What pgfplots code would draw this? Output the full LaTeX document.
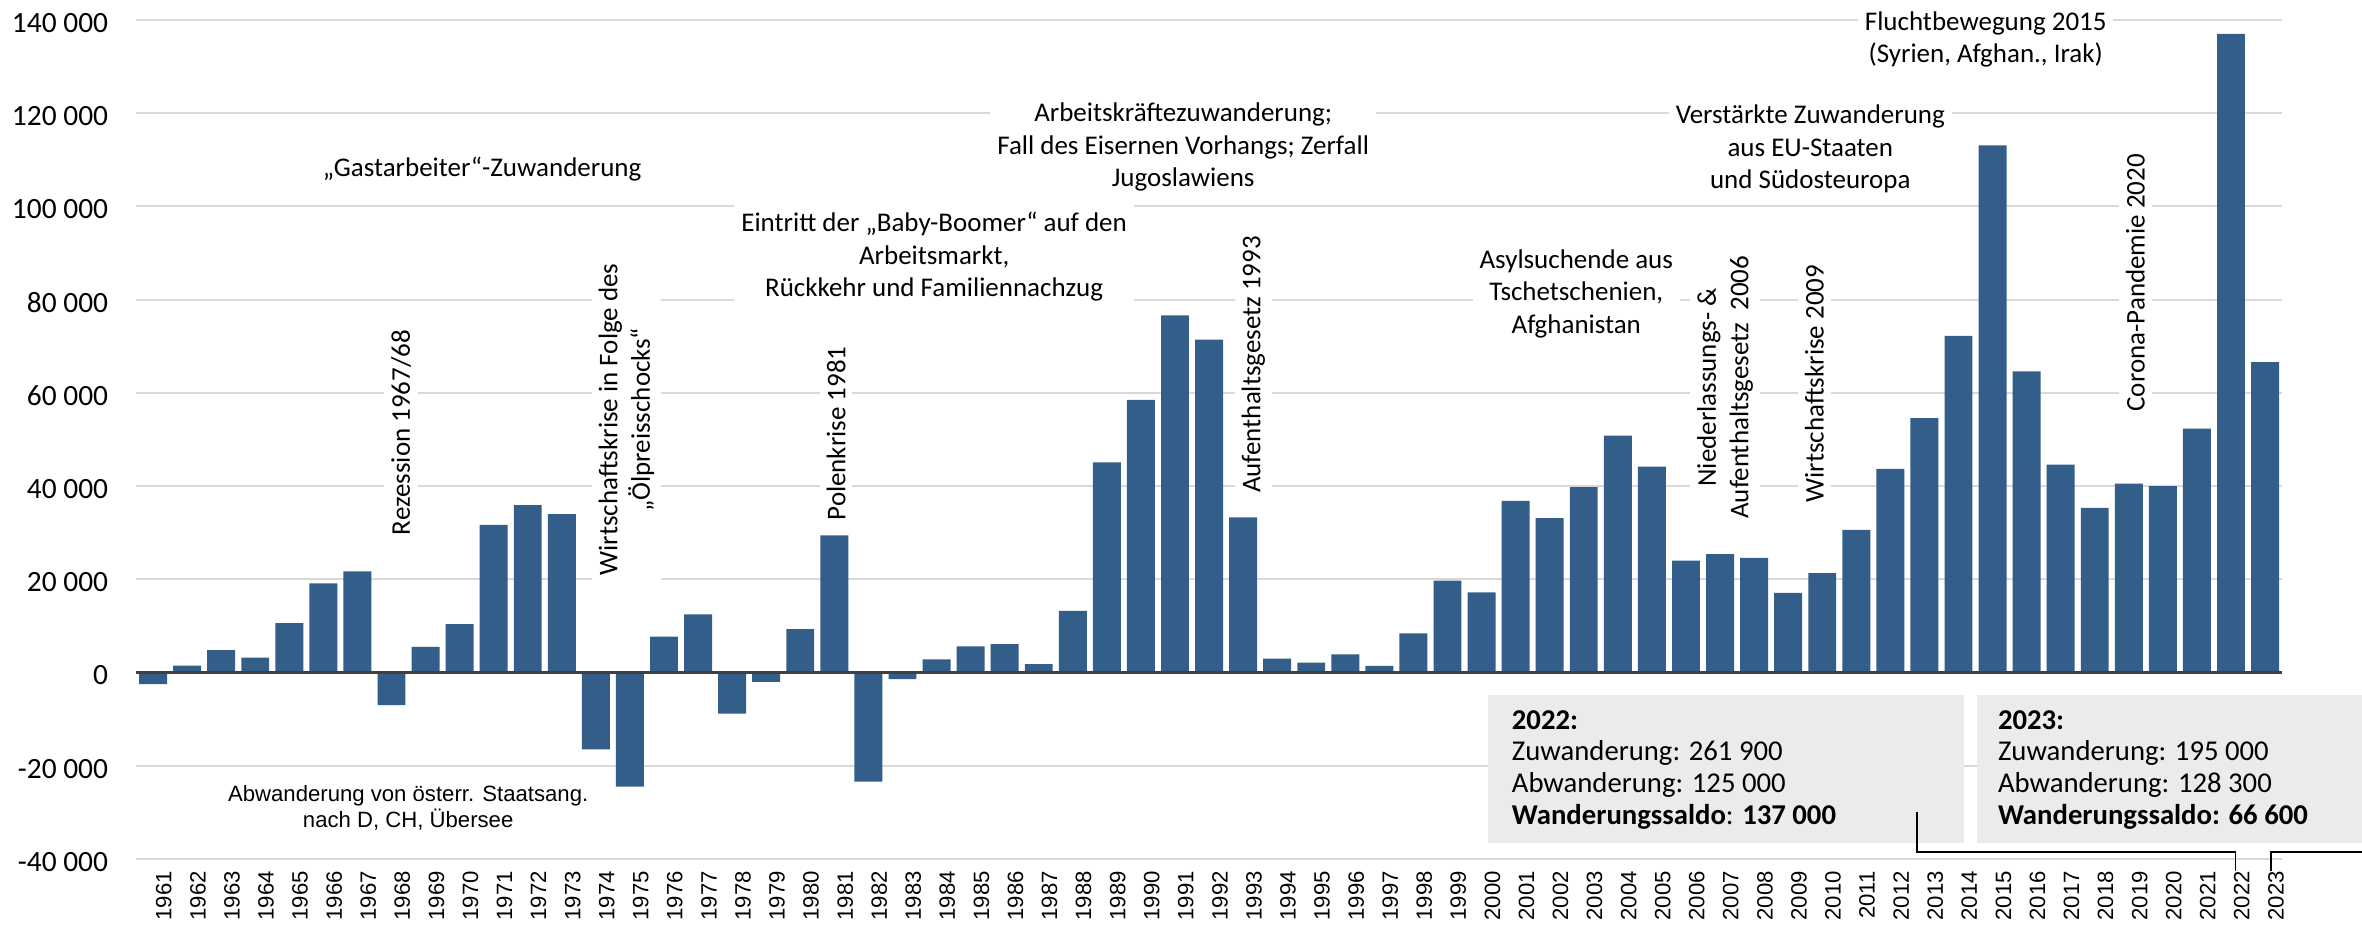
\documentclass[border=0pt]{standalone}
\usepackage{fontspec}
\setmainfont{Carlito}
\newfontfamily\arial{Liberation Sans}
\usepackage{pgfplots}
\pgfplotsset{compat=1.18}

\definecolor{barblue}{RGB}{51,94,137}
\definecolor{gridgray}{RGB}{217,217,217}
\definecolor{boxgray}{RGB}{235,235,235}
\tikzset{ann/.style={font=\fontsize{7.8}{9.4}\selectfont, fill=white, align=center, inner sep=2pt}}

\begin{document}
\begin{tikzpicture}
\useasboundingbox (-1.382cm,-0.752cm) rectangle (22.618cm,8.728cm);
\begin{axis}[
    scale only axis,
    width=21.806cm, height=8.525cm,
    clip=false,
    ybar, bar width=0.82,
    xmin=1960.5, xmax=2023.5,
    ymin=-40000, ymax=140000,
    axis line style={draw=none},
    major tick length=0pt,
    /pgf/number format/assume math mode=true,
    xtick=data,
    xticklabel style={font=\arial\fontsize{6.4}{7}\selectfont, rotate=90, anchor=east, yshift=-0.11cm,
        /pgf/number format/1000 sep=},
    ytick={-40000,-20000,0,20000,40000,60000,80000,100000,120000,140000},
    yticklabels={-40 000,-20 000,0,20 000,40 000,60 000,80 000,100 000,120 000,140 000},
    yticklabel style={font=\fontsize{8.5}{10}\selectfont, xshift=-0.16cm, yshift=-0.03cm},
    ymajorgrids=true,
    grid style={gridgray, line width=0.6pt},
]
\addplot[fill=barblue, draw=none] table {
year value
1961 -2500
1962 1500
1963 4800
1964 3200
1965 10600
1966 19100
1967 21700
1968 -7000
1969 5500
1970 10400
1971 31700
1972 35900
1973 34000
1974 -16500
1975 -24500
1976 7700
1977 12500
1978 -8800
1979 -2000
1980 9300
1981 29400
1982 -23400
1983 -1400
1984 2800
1985 5600
1986 6100
1987 1800
1988 13200
1989 45100
1990 58500
1991 76600
1992 71400
1993 33300
1994 3000
1995 2100
1996 3900
1997 1400
1998 8400
1999 19700
2000 17200
2001 36800
2002 33100
2003 39800
2004 50800
2005 44200
2006 24000
2007 25400
2008 24600
2009 17100
2010 21300
2011 30600
2012 43700
2013 54600
2014 72200
2015 113100
2016 64600
2017 44600
2018 35300
2019 40500
2020 40000
2021 52300
2022 137000
2023 66600
};
\draw[black!75, line width=0.9pt] (axis cs:1960.5,0) -- (axis cs:2023.5,0);

% horizontal annotations
\node[ann] at (axis cs:1970.66,108000) {„Gastarbeiter“-Zuwanderung};
\node[ann] at (axis cs:1983.93,89200) {Eintritt der „Baby-Boomer“ auf den\\Arbeitsmarkt,\\Rückkehr und Familiennachzug};
\node[ann] at (axis cs:1991.24,112700) {Arbeitskräftezuwanderung;\\Fall des Eisernen Vorhangs; Zerfall\\Jugoslawiens};
\node[ann] at (axis cs:2002.78,81300) {Asylsuchende aus\\Tschetschenien,\\Afghanistan};
\node[ann] at (axis cs:2009.65,112300) {Verstärkte Zuwanderung\\aus EU-Staaten\\und Südosteuropa};
\node[ann] at (axis cs:2014.8,135800) {Fluchtbewegung 2015\\(Syrien, Afghan., Irak)};
\node[ann, font=\arial\fontsize{6.4}{7.4}\selectfont, inner sep=4pt] at (axis cs:1968.49,-29100) {Abwanderung von österr. Staatsang.\\nach D, CH, Übersee};

% rotated annotations
\node[ann, rotate=90] at (axis cs:1968.28,51500) {Rezession 1967/68};
\node[ann, rotate=90] at (axis cs:1974.9,54300) {Wirtschaftskrise in Folge des\\„Ölpreisschocks“};
\node[ann, rotate=90] at (axis cs:1981.05,51300) {Polenkrise 1981};
\node[ann, rotate=90] at (axis cs:1993.3,66100) {Aufenthaltsgesetz 1993};
\node[ann, rotate=90] at (axis cs:2007.15,61200) {Niederlassungs- \&\\Aufenthaltsgesetz~ 2006};
\node[ann, rotate=90] at (axis cs:2009.77,62000) {Wirtschaftskrise 2009};
\node[ann, rotate=90] at (axis cs:2019.19,83600) {Corona-Pandemie 2020};

% info boxes
\fill[boxgray] (axis cs:2000.2,-4920) rectangle (axis cs:2014.17,-36580);
\fill[boxgray] (axis cs:2014.55,-4920) rectangle (axis cs:2025.86,-36580);
\node[anchor=north west, inner sep=0pt, align=left, font=\fontsize{8.3}{9.15}\selectfont]
  at (axis cs:2000.87,-8000) {\textbf{2022:}\\Zuwanderung: 261 900\\Abwanderung: 125 000\\\textbf{Wanderungssaldo}: \textbf{137 000}};
\node[anchor=north west, inner sep=0pt, align=left, font=\fontsize{8.3}{9.15}\selectfont]
  at (axis cs:2015.14,-8000) {\textbf{2023:}\\Zuwanderung: 195 000\\Abwanderung: 128 300\\\textbf{Wanderungssaldo: 66 600}};

% connectors
\draw[black, line width=0.5pt] (axis cs:2012.79,-29950) -- (axis cs:2012.79,-38500) -- (axis cs:2022.13,-38500) -- (axis cs:2022.13,-42570);
\draw[black, line width=0.5pt] (axis cs:2023.18,-42570) -- (axis cs:2023.18,-38500) -- (axis cs:2025.86,-38500);
\end{axis}
\end{tikzpicture}
\end{document}
